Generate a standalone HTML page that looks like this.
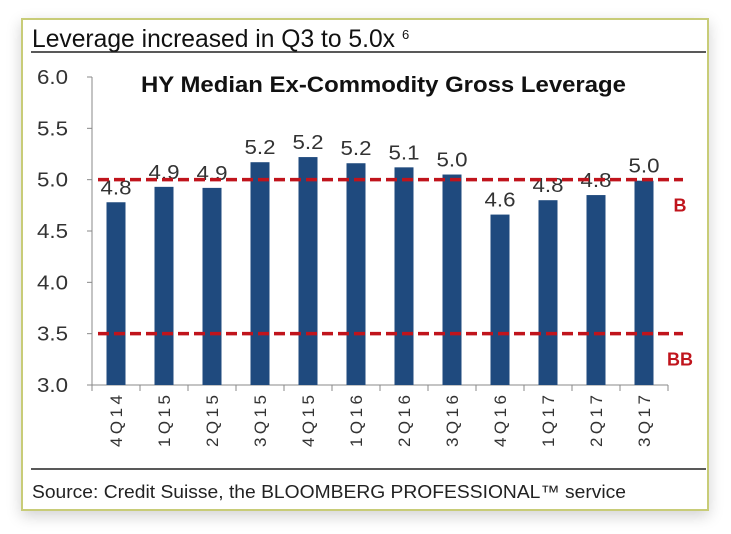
<!DOCTYPE html>
<html><head><meta charset="utf-8"><style>
body{margin:0;width:731px;height:534px;background:#fff;font-family:"Liberation Sans",sans-serif;overflow:hidden}
#frame{position:absolute;left:21px;top:18px;width:684px;height:489px;background:#fff;border:2px solid #c8cc78;box-shadow:0 5px 14px rgba(0,0,0,.18)}
</style></head><body>
<div id="frame"></div>
<svg width="731" height="534" style="position:absolute;left:0;top:0">
<text x="32" y="47" font-size="25" fill="#111" textLength="363" lengthAdjust="spacingAndGlyphs">Leverage increased in Q3 to 5.0x</text>
<text x="402" y="39" font-size="13" fill="#111">6</text>
<line x1="31" y1="52" x2="706" y2="52" stroke="#222" stroke-width="1.5"/>
<text x="141" y="92" font-size="22" font-weight="bold" fill="#111" textLength="485" lengthAdjust="spacingAndGlyphs">HY Median Ex-Commodity Gross Leverage</text>
<g id="axes"></g><g id="bars"></g><g id="refs"></g>
<line x1="31" y1="469" x2="706" y2="469" stroke="#222" stroke-width="1.5"/>
<text x="32" y="498" font-size="18" fill="#222" textLength="594" lengthAdjust="spacingAndGlyphs">Source: Credit Suisse, the BLOOMBERG PROFESSIONAL™ service</text>
</svg>
<script>
const categories=["4Q14","1Q15","2Q15","3Q15","4Q15","1Q16","2Q16","3Q16","4Q16","1Q17","2Q17","3Q17"];
const values=[4.78,4.93,4.92,5.17,5.22,5.16,5.12,5.05,4.66,4.80,4.85,4.99];
const valueLabels=["4.8","4.9","4.9","5.2","5.2","5.2","5.1","5.0","4.6","4.8","4.8","5.0"];
const yTicks=[3.0,3.5,4.0,4.5,5.0,5.5,6.0];
const refValues=[5.0,3.5];
const refLabels=["B","BB"];
const NS="http://www.w3.org/2000/svg";
const x0=92,x1=668,yMin=3,yMax=6,py0=385,py1=77;
const y=v=>py0-(v-yMin)/(yMax-yMin)*(py0-py1);
const bw=(x1-x0)/categories.length;
const xc=i=>x0+bw*(i+0.5);
function mk(tag,attrs,parent,text){const e=document.createElementNS(NS,tag);for(const k in attrs)e.setAttribute(k,attrs[k]);if(text!==undefined)e.textContent=text;parent.appendChild(e);return e;}
const axes=document.getElementById('axes'),bars=document.getElementById('bars'),refs=document.getElementById('refs');
let a=mk('line',{x1:x0,y1:py1,x2:x0,y2:py0,stroke:'#888'},axes);


a=mk('line',{x1:x0,y1:py0,x2:x1,y2:py0,stroke:'#888'},axes);


yTicks.forEach(t=>{
 const l=mk('line',{x1:x0-5,y1:y(t),x2:x0,y2:y(t),stroke:'#888'},axes);
 
 
 const tx=mk('text',{x:68,y:y(t)+7,'font-size':20,'text-anchor':'end',fill:'#333',textLength:31,lengthAdjust:'spacingAndGlyphs'},axes,t.toFixed(1));
 
 
});
for(let i=0;i<=categories.length;i++){
 const l=mk('line',{x1:x0+bw*i,y1:py0,x2:x0+bw*i,y2:py0+6,stroke:'#888'},axes);
 
 
}
categories.forEach((c,i)=>{
 const r=mk('rect',{x:xc(i)-9.5,y:y(values[i]),width:19,height:py0-y(values[i]),fill:'#1f4a7e'},bars);
 
 
 const t=mk('text',{x:xc(i),y:y(values[i])-8,'font-size':20,'text-anchor':'middle',fill:'#333',textLength:31,lengthAdjust:'spacingAndGlyphs'},bars,valueLabels[i]);
 
 
 const xl=mk('text',{x:0,y:0,'font-size':17,'text-anchor':'end',fill:'#333',transform:`translate(${xc(i)+6},395) rotate(-90)`,textLength:52,lengthAdjust:'spacing'},axes,c);
 
 
});
refValues.forEach((v,k)=>{
 const l=mk('line',{x1:98,y1:y(v),x2:683,y2:y(v),stroke:'#c0141c','stroke-width':3.5,'stroke-dasharray':'11,5'},refs);
 
 
 const t=mk('text',{x:680,y:y(v)+32,'font-size':18,'font-weight':'bold','text-anchor':'middle',fill:'#c0141c'},refs,refLabels[k]);
 
 
});
</script>
</body></html>
